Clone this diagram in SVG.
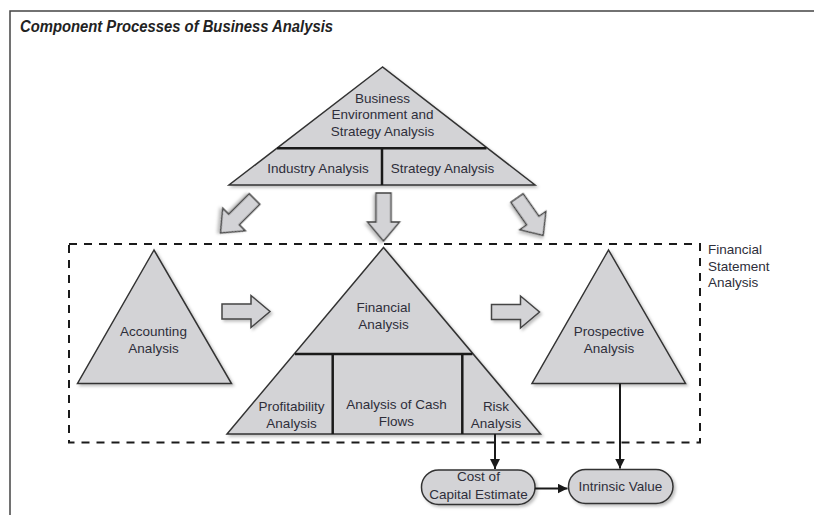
<svg xmlns="http://www.w3.org/2000/svg" xmlns:xlink="http://www.w3.org/1999/xlink" width="814" height="515" viewBox="0 0 814 515">
<style>
.t{font-family:"Liberation Sans",Arial,sans-serif;font-size:13.5px;fill:#2e2e3a;text-anchor:middle}
.ts{font-family:"Liberation Sans",Arial,sans-serif;font-size:13.5px;fill:#2e2e3a}
.shape{fill:#d3d3d6;stroke:#333;stroke-width:1.5;stroke-linejoin:miter}
.div{stroke:#1a1a1a;stroke-width:2.5;fill:none}
.blk{fill:#d3d3d6;stroke:#444;stroke-width:1.5}
.conn{stroke:#1a1a1a;stroke-width:2;fill:none}
.dash{fill:none;stroke:#1a1a1a;stroke-width:2;stroke-dasharray:8,7}
</style>
<defs>
<filter id="sh" x="-10%" y="-10%" width="130%" height="130%">
<feDropShadow dx="2" dy="2" stdDeviation="1.5" flood-color="#000" flood-opacity="0.25"/>
</filter>
<path id="blkarrow" d="M0,-7.5 L29,-7.5 L29,-16 L48,0 L29,16 L29,7.5 L0,7.5 Z"/>
<marker id="ah" viewBox="0 0 10 10" refX="10" refY="5" markerWidth="5" markerHeight="5" orient="auto" markerUnits="strokeWidth">
<path d="M0,0 L10,5 L0,10 Z" fill="#1a1a1a"/>
</marker>
</defs>
<rect x="0" y="0" width="814" height="515" fill="#fff"/>
<path d="M10,515 L10,11 L814,11" fill="none" stroke="#444" stroke-width="1.5"/>
<text x="20" y="32" font-family="'Liberation Sans',Arial,sans-serif" font-size="16" font-weight="bold" font-style="italic" fill="#222" textLength="313" lengthAdjust="spacingAndGlyphs">Component Processes of Business Analysis</text>

<rect id="fsa-box" class="dash" x="69" y="244" width="631" height="198.5"/>
<g id="fsa-label">
<text class="ts" x="708" y="254">Financial</text>
<text class="ts" x="708" y="270.5">Statement</text>
<text class="ts" x="708" y="287">Analysis</text>
</g>

<g id="business-env">
<polygon class="shape" filter="url(#sh)" points="382.5,67 229,185 535,185"/>
<line class="div" x1="277" y1="148.3" x2="486.5" y2="148.3"/>
<line class="div" x1="382" y1="148.3" x2="382" y2="185"/>
<text class="t" x="382.5" y="102.5">Business</text>
<text class="t" x="382.5" y="119">Environment and</text>
<text class="t" x="382.5" y="135.5">Strategy Analysis</text>
<text class="t" x="318" y="173">Industry Analysis</text>
<text class="t" x="442.5" y="173">Strategy Analysis</text>
</g>

<g id="accounting">
<polygon class="shape" filter="url(#sh)" points="154,250 77.5,383.5 231.5,383.5"/>
<text class="t" x="153.5" y="336">Accounting</text>
<text class="t" x="153.5" y="353">Analysis</text>
</g>

<g id="financial">
<polygon class="shape" filter="url(#sh)" points="383.5,247.5 227,434 540.5,434"/>
<line class="div" x1="295" y1="354" x2="472.5" y2="354"/>
<line class="div" x1="332.7" y1="354" x2="332.7" y2="434"/>
<line class="div" x1="462.3" y1="354" x2="462.3" y2="434"/>
<text class="t" x="383.5" y="311.5">Financial</text>
<text class="t" x="383.5" y="329">Analysis</text>
<text class="t" x="291.5" y="410.5">Profitability</text>
<text class="t" x="291.5" y="428">Analysis</text>
<text class="t" x="396.5" y="408.5">Analysis of Cash</text>
<text class="t" x="396.5" y="425.5">Flows</text>
<text class="t" x="496" y="410.5">Risk</text>
<text class="t" x="496" y="428">Analysis</text>
</g>

<g id="prospective">
<polygon class="shape" filter="url(#sh)" points="608.5,250 532,383.5 685.5,383.5"/>
<text class="t" x="609" y="336">Prospective</text>
<text class="t" x="609" y="353">Analysis</text>
</g>

<g id="cost-of-capital">
<rect class="shape" filter="url(#sh)" x="421.5" y="470" width="113.5" height="34.5" rx="17" ry="17"/>
<text class="t" x="478.5" y="481">Cost of</text>
<text class="t" x="478.5" y="498.5">Capital Estimate</text>
</g>

<g id="intrinsic-value">
<rect class="shape" filter="url(#sh)" x="568.5" y="469.5" width="104.5" height="34" rx="17" ry="17"/>
<text class="t" x="620.5" y="491">Intrinsic Value</text>
</g>

<g id="connectors">
<use href="#blkarrow" class="blk" filter="url(#sh)" transform="translate(254.5,199) rotate(135)"/>
<use href="#blkarrow" class="blk" filter="url(#sh)" transform="translate(383.5,193) rotate(90)"/>
<use href="#blkarrow" class="blk" filter="url(#sh)" transform="translate(517,198) rotate(55) scale(0.95,1)"/>
<use href="#blkarrow" class="blk" filter="url(#sh)" transform="translate(222,311.5)"/>
<use href="#blkarrow" class="blk" filter="url(#sh)" transform="translate(491.5,312)"/>
<line class="conn" x1="495" y1="434" x2="495" y2="469" marker-end="url(#ah)"/>
<line class="conn" x1="620" y1="383.5" x2="620" y2="468.5" marker-end="url(#ah)"/>
<line class="conn" x1="535" y1="488.5" x2="567.5" y2="488.5" marker-end="url(#ah)"/>
</g>
</svg>
